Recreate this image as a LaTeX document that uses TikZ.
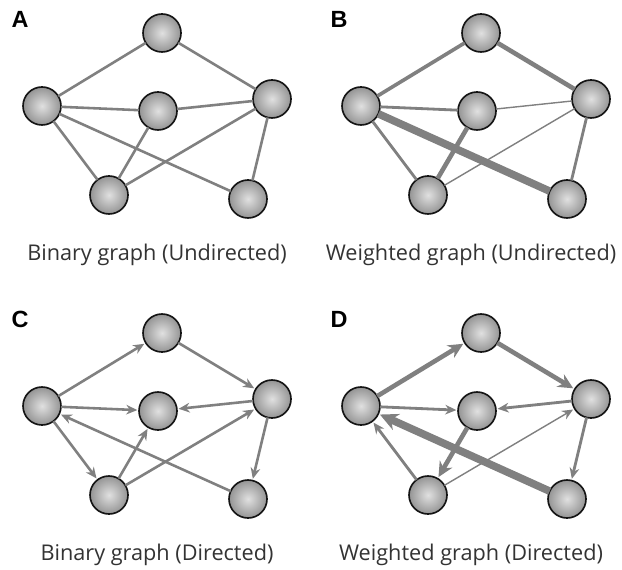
\documentclass[tikz,border=0pt]{standalone}
\usepackage{fontspec}
\setmainfont{Open Sans}
\newfontfamily\panelfont{Liberation Sans}
\usetikzlibrary{arrows.meta}
\definecolor{NetPaper}{gray}{1}
\definecolor{NetInk}{gray}{0.08}
\definecolor{NetEdge}{gray}{0.5}
\definecolor{NetFillIn}{gray}{0.88}
\definecolor{NetFillOut}{gray}{0.58}
\definecolor{NetCaption}{gray}{0.2}
\tikzset{
    net/diagram/.style={
        x=0.03cm, y=-0.03cm,
        line cap=butt,
        every node/.style={inner sep=0pt, outer sep=0pt}
    },
    net/vertex/.style={
        circle, minimum size=1.14cm, draw=NetInk, line width=1.4pt,
        inner color=NetFillIn, outer color=NetFillOut
    },
    net/edge/.style={draw=NetEdge, line width=2.2pt},
    net/thin/.style={draw=NetEdge, line width=1.2pt},
    net/mid/.style={draw=NetEdge, line width=2.4pt},
    net/strong/.style={draw=NetEdge, line width=3.1pt},
    net/thick/.style={draw=NetEdge, line width=3.9pt},
    net/heavy/.style={draw=NetEdge, line width=6.5pt},
    net/arc/.style={shorten >=1.5pt, -{Stealth[length=3.3mm, width=2.9mm]}},
    net/bigarc/.style={shorten >=1.5pt, -{Stealth[length=4.5mm, width=4.3mm]}},
    net/hugearc/.style={shorten >=1.5pt, -{Stealth[length=5.4mm, width=5.2mm]}},
    net/panel/.style={font=\panelfont\bfseries\fontsize{20}{20}\selectfont, text=black},
    net/caption/.style={font=\fontsize{18.5}{20}\selectfont, text=NetCaption}
}

\begin{document}
\begin{tikzpicture}[net/diagram]
    \useasboundingbox[fill=NetPaper] (0,0) rectangle (622,570);
    \def\PlaceVertices#1{
        \node[net/vertex] (#1-top) at (162,33) {};
        \node[net/vertex] (#1-left) at (42,106) {};
        \node[net/vertex] (#1-mid) at (158,111) {};
        \node[net/vertex] (#1-right) at (272,99) {};
        \node[net/vertex] (#1-bl) at (109,195) {};
        \node[net/vertex] (#1-br) at (248,199) {};
    }
    % A: binary, undirected
    \PlaceVertices{A}
    \node[net/panel] (A-label) at (20,19) {A};
    \node[net/caption] (A-caption) at (157,255) {Binary graph (Undirected)};
    \draw[net/edge] (A-left) -- (A-top);
    \draw[net/edge] (A-top) -- (A-right);
    \draw[net/edge] (A-left) -- (A-mid);
    \draw[net/edge] (A-mid) -- (A-right);
    \draw[net/edge] (A-left) -- (A-bl);
    \draw[net/edge] (A-left) -- (A-br);
    \draw[net/edge] (A-mid) -- (A-bl);
    \draw[net/edge] (A-bl) -- (A-right);
    \draw[net/edge] (A-right) -- (A-br);
    % B: weighted, undirected
    \begin{scope}[shift={(319,0)}]
        \PlaceVertices{B}
        \node[net/panel] (B-label) at (20,19) {B};
        \node[net/caption] (B-caption) at (152,255) {Weighted graph (Undirected)};
    \end{scope}
    \draw[net/strong] (B-left) -- (B-top);
    \draw[net/thick] (B-top) -- (B-right);
    \draw[net/mid] (B-left) -- (B-mid);
    \draw[net/thin] (B-mid) -- (B-right);
    \draw[net/mid] (B-left) -- (B-bl);
    \draw[net/heavy] (B-left) -- (B-br);
    \draw[net/thick] (B-mid) -- (B-bl);
    \draw[net/thin] (B-bl) -- (B-right);
    \draw[net/mid] (B-right) -- (B-br);
    % C: binary, directed
    \begin{scope}[shift={(0,300)}]
        \PlaceVertices{C}
        \node[net/panel] (C-label) at (20,19) {C};
        \node[net/caption] (C-caption) at (157,255) {Binary graph (Directed)};
    \end{scope}
    \draw[net/edge, net/arc] (C-left) -- (C-top);
    \draw[net/edge, net/arc] (C-top) -- (C-right);
    \draw[net/edge, net/arc] (C-left) -- (C-mid);
    \draw[net/edge, net/arc] (C-right) -- (C-mid);
    \draw[net/edge, net/arc] (C-left) -- (C-bl);
    \draw[net/edge, net/arc] (C-br) -- (C-left);
    \draw[net/edge, net/arc] (C-bl) -- (C-mid);
    \draw[net/edge, net/arc] (C-bl) -- (C-right);
    \draw[net/edge, net/arc] (C-right) -- (C-br);
    % D: weighted, directed
    \begin{scope}[shift={(319,300)}]
        \PlaceVertices{D}
        \node[net/panel] (D-label) at (20,19) {D};
        \node[net/caption] (D-caption) at (152,255) {Weighted graph (Directed)};
    \end{scope}
    \draw[net/thick, net/bigarc] (D-left) -- (D-top);
    \draw[net/thick, net/bigarc] (D-top) -- (D-right);
    \draw[net/mid, net/arc] (D-left) -- (D-mid);
    \draw[net/mid, net/arc] (D-right) -- (D-mid);
    \draw[net/mid, net/arc] (D-bl) -- (D-left);
    \draw[net/heavy, net/hugearc] (D-br) -- (D-left);
    \draw[net/thick, net/bigarc] (D-mid) -- (D-bl);
    \draw[net/thin, net/arc] (D-bl) -- (D-right);
    \draw[net/mid, net/arc] (D-right) -- (D-br);
\end{tikzpicture}
\end{document}
